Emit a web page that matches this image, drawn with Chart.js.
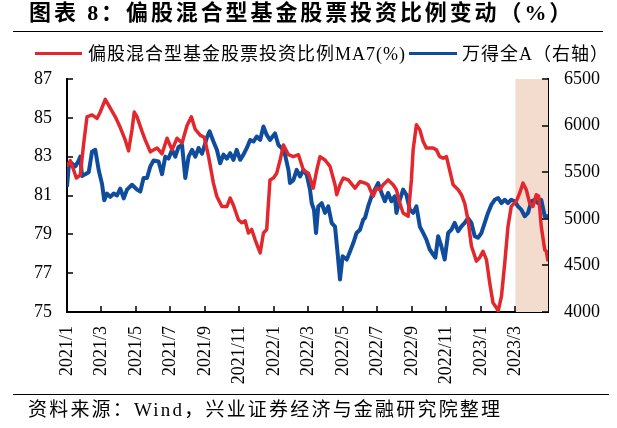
<!DOCTYPE html>
<html>
<head>
<meta charset="utf-8">
<script src="https://cdn.jsdelivr.net/npm/chart.js@4.4.1/dist/chart.umd.min.js"></script>
<style>
  body { margin: 0; background: #fff; }
  #wrap { position: relative; width: 617px; height: 428px; overflow: hidden;
          font-family: "Liberation Serif", "Noto Sans CJK SC", serif; color: #000; }
  #chart { position: absolute; left: 0; top: 0; }
  .title { position: absolute; left: 29px; top: 2px; font-size: 22px; line-height: 22px;
           font-weight: bold; letter-spacing: 2.9px; white-space: nowrap; }
  .rule { position: absolute; height: 0; border-top: 1.5px solid #000; }
  .legend { position: absolute; top: 45px; font-size: 18px; line-height: 18px;
            letter-spacing: 1px; white-space: nowrap; }
  .swatch { position: absolute; top: 52px; height: 3px; }
  .source { position: absolute; left: 28px; top: 400px; font-size: 19px; line-height: 19px;
            letter-spacing: 2.2px; white-space: nowrap; }
</style>
</head>
<body>
<div id="wrap">
  <canvas id="chart" width="617" height="428"></canvas>
  <div class="title">图表 8：偏股混合型基金股票投资比例变动（%）</div>
  <div class="rule" style="left:13px;top:31px;width:590px"></div>
  <div class="swatch" style="left:35px;width:47px;background:#E2282C"></div>
  <div class="legend" style="left:88px">偏股混合型基金股票投资比例MA7(%)</div>
  <div class="swatch" style="left:409px;width:48px;background:#0F4C9C"></div>
  <div class="legend" style="left:462px">万得全A（右轴）</div>
  <div class="rule" style="left:13px;top:394px;width:596px"></div>
  <div class="source">资料来源：Wind，兴业证券经济与金融研究院整理</div>
</div>
<script>
// x positions are months counted from 2021/1
const tickMonths = [0, 2, 4, 6, 8, 10, 12, 14, 16, 18, 20, 22, 24, 26];
const tickLabels = ["2021/1", "2021/3", "2021/5", "2021/7", "2021/9", "2021/11",
                    "2022/1", "2022/3", "2022/5", "2022/7", "2022/9", "2022/11",
                    "2023/1", "2023/3"];
const shadeFrom = 26; // 2023/3 onwards

const shareMonths = [0, 0.19, 0.39, 0.54, 0.77, 0.97, 1.16, 1.45, 1.74, 1.93, 2.22, 2.51, 2.8, 3.09,
  3.38, 3.57, 3.77, 3.9, 4.06, 4.35, 4.54, 4.83, 5.22, 5.51, 5.8, 6.09, 6.38, 6.67, 6.96, 7.21,
  7.44, 7.73, 7.96, 8.21, 8.49, 8.69, 8.98, 9.27, 9.46, 9.65, 9.94, 10.13, 10.33, 10.52, 10.71,
  10.91, 11.2, 11.39, 11.58, 11.77, 11.97, 12.16, 12.35, 12.55, 12.84, 13.13, 13.42, 13.71, 14,
  14.28, 14.48, 14.67, 14.96, 15.25, 15.54, 15.64, 15.83, 16.02, 16.31, 16.7, 16.99, 17.28, 17.46,
  17.75, 17.95, 18.14, 18.33, 18.62, 18.91, 19.1, 19.3, 19.49, 19.78, 19.97, 20.07, 20.26, 20.46,
  20.65, 20.84, 21.23, 21.42, 21.61, 21.81, 22, 22.19, 22.39, 22.68, 22.87, 23.06, 23.25, 23.45,
  23.74, 23.93, 24.12, 24.32, 24.51, 24.7, 24.9, 25, 25.19, 25.38, 25.57, 25.76, 26.05, 26.25,
  26.44, 26.63, 26.83, 27.02, 27.21, 27.35, 27.5, 27.7, 27.79, 27.89];
const shareValues = [82.5, 82.8, 82.3, 81.9, 82.05, 83.7, 85.05, 85.15, 84.97, 85.3, 85.95, 85.5,
  85.05, 84.5, 83.85, 83.3, 84.4, 85.3, 85.05, 84.3, 83.85, 83.25, 83.45, 83.15, 83.95, 83.35,
  83.95, 83.7, 84.6, 85.05, 84.4, 84.1, 84.0, 83.0, 81.64, 80.95, 80.43, 80.43, 80.87, 80.5,
  79.75, 79.6, 79.7, 79.07, 79.25, 78.72, 78.04, 79.07, 79.25, 81.8, 81.9, 82.15, 82.8, 83.6,
  83.1, 83.0, 83.1, 82.3, 82.15, 81.38, 82.3, 83.0, 82.83, 82.5, 81.55, 81.04, 81.55, 81.9, 81.8,
  81.38, 81.72, 81.64, 81.55, 80.96, 81.38, 81.3, 81.55, 81.8, 81.55, 81.3, 80.6, 80.1, 79.93,
  81.8, 83.35, 84.64, 84.38, 83.78, 83.44, 83.44, 83.35, 83.0, 82.92, 83.0, 82.3, 81.55, 81.3,
  81.04, 80.6, 79.76, 78.4, 77.62, 77.8, 78.13, 77.7, 76.5, 75.48, 75.22, 75.05, 75.8, 77.5,
  79.4, 80.44, 80.7, 81.13, 81.64, 81.3, 80.6, 80.44, 81.04, 80.96, 79.4, 78.2, 78.13, 77.62];

const indexMonths = [0, 0.1, 0.29, 0.48, 0.68, 0.77, 0.87, 1.06, 1.26, 1.45, 1.64, 1.84, 2.03, 2.16,
  2.32, 2.51, 2.71, 2.9, 3.09, 3.29, 3.48, 3.77, 4.06, 4.25, 4.44, 4.64, 4.83, 5.02, 5.31, 5.51,
  5.7, 5.89, 6.09, 6.28, 6.47, 6.67, 6.86, 7.05, 7.25, 7.44, 7.63, 7.83, 8.12, 8.27, 8.49, 8.69,
  8.88, 9.07, 9.27, 9.46, 9.65, 9.84, 10.04, 10.23, 10.42, 10.62, 10.81, 11, 11.2, 11.39, 11.58,
  11.77, 12.06, 12.26, 12.45, 12.64, 12.84, 12.93, 13.13, 13.32, 13.51, 13.71, 13.9, 14.09, 14.19,
  14.32, 14.44, 14.57, 14.77, 14.96, 15.15, 15.35, 15.54, 15.69, 15.83, 15.98, 16.22, 16.41, 16.6,
  16.79, 16.99, 17.18, 17.28, 17.46, 17.66, 17.85, 18.04, 18.24, 18.43, 18.62, 18.81, 19.01, 19.1,
  19.3, 19.49, 19.68, 19.88, 20.07, 20.26, 20.46, 20.65, 20.84, 21.03, 21.23, 21.36, 21.52, 21.71,
  21.9, 22.1, 22.29, 22.48, 22.68, 22.87, 23.06, 23.25, 23.45, 23.64, 23.83, 24.03, 24.22, 24.41,
  24.61, 24.8, 25, 25.19, 25.38, 25.57, 25.76, 25.96, 26.15, 26.34, 26.54, 26.73, 26.92, 27.12,
  27.31, 27.5, 27.7, 27.89];
const indexValues = [5344, 5562, 5594, 5562, 5625, 5667, 5458, 5479, 5500, 5719, 5740, 5521, 5375,
  5198, 5271, 5235, 5271, 5250, 5323, 5219, 5313, 5365, 5313, 5292, 5438, 5438, 5562, 5625, 5615,
  5479, 5667, 5646, 5740, 5667, 5771, 5792, 5438, 5667, 5740, 5667, 5760, 5698, 5875, 5938, 5829,
  5740, 5596, 5688, 5646, 5704, 5633, 5740, 5633, 5688, 5758, 5846, 5829, 5883, 5846, 5990, 5900,
  5846, 5917, 5792, 5758, 5688, 5525, 5383, 5417, 5525, 5454, 5525, 5471, 5313, 5167, 5098, 4848,
  5133, 5167, 5063, 5133, 4954, 4917, 4633, 4348, 4598, 4563, 4650, 4740, 4848, 4883, 4990, 5010,
  5133, 5242, 5313, 5383, 5277, 5188, 5277, 5188, 5242, 5063, 5204, 5313, 5258, 5098, 5063, 5133,
  4917, 4848, 4777, 4671, 4617, 4583, 4813, 4704, 4563, 4848, 4883, 4956, 4867, 4919, 4956, 5008,
  4956, 4813, 4796, 4848, 4956, 5063, 5152, 5204, 5223, 5169, 5204, 5169, 5204, 5188, 5133, 5098,
  5027, 5063, 5188, 5204, 5169, 5204, 5027, 5027];

const RED = "#E2282C";
const BLUE = "#0F4C9C";
const tickFont = { family: "'Liberation Serif', serif", size: 18 };

// shaded window behind the lines + short inward tick marks on every axis
const decorations = {
    id: "decorations",
    beforeDatasetsDraw(chart) {
        const { ctx, chartArea: a, scales: { x } } = chart;
        const x0 = x.getPixelForValue(shadeFrom);
        ctx.save();
        ctx.fillStyle = "#F3DCCD";
        ctx.fillRect(x0, a.top, a.right - x0, a.bottom - a.top);
        ctx.restore();
    },
    afterDraw(chart) {
        const { ctx, chartArea: a, scales: { x, y, y1 } } = chart;
        ctx.save();
        ctx.strokeStyle = "#000";
        ctx.lineWidth = 1.5;
        ctx.beginPath();
        y.ticks.forEach(t => {
            const py = Math.round(y.getPixelForValue(t.value));
            ctx.moveTo(a.left, py); ctx.lineTo(a.left + 6, py);
        });
        y1.ticks.forEach(t => {
            const py = Math.round(y1.getPixelForValue(t.value));
            ctx.moveTo(a.right, py); ctx.lineTo(a.right - 6, py);
        });
        x.ticks.forEach(t => {
            const px = Math.round(x.getPixelForValue(t.value));
            ctx.moveTo(px, a.bottom); ctx.lineTo(px, a.bottom - 6);
        });
        ctx.stroke();
        ctx.restore();
    }
};

new Chart(document.getElementById("chart"), {
    type: "line",
    data: {
        datasets: [
            {
                label: "偏股混合型基金股票投资比例MA7(%)",
                data: shareMonths.map((m, i) => ({ x: m, y: shareValues[i] })),
                borderColor: RED,
                borderWidth: 3.5,
                yAxisID: "y",
            },
            {
                label: "万得全A（右轴）",
                data: indexMonths.map((m, i) => ({ x: m, y: indexValues[i] })),
                borderColor: BLUE,
                borderWidth: 4,
                yAxisID: "y1",
            }
        ]
    },
    options: {
        responsive: false,
        animation: false,
        devicePixelRatio: 1,
        elements: { point: { radius: 0 }, line: { tension: 0, borderJoinStyle: "round" } },
        layout: { padding: { top: 79, left: 0, right: 0, bottom: 0 } },
        plugins: { legend: { display: false }, tooltip: { enabled: false } },
        scales: {
            x: {
                type: "linear",
                min: 0,
                max: 27.89,
                afterBuildTicks: axis => { axis.ticks = tickMonths.map(v => ({ value: v })); },
                afterFit: axis => { axis.height = 428 - 312; },
                grid: { display: false, drawTicks: false },
                border: { color: "#000", width: 2 },
                ticks: {
                    autoSkip: false,
                    minRotation: 90,
                    maxRotation: 90,
                    padding: 14,
                    color: "#000",
                    font: tickFont,
                    callback: v => tickLabels[tickMonths.indexOf(v)],
                }
            },
            y: {
                position: "left",
                min: 75,
                max: 87,
                afterFit: axis => { axis.width = 67; },
                grid: { display: false, drawTicks: false },
                border: { color: "#000", width: 2 },
                ticks: { stepSize: 2, padding: 15, color: "#000", font: tickFont,
                         callback: v => String(v) }
            },
            y1: {
                position: "right",
                min: 4000,
                max: 6500,
                afterFit: axis => { axis.width = 617 - 548; },
                grid: { display: false, drawTicks: false },
                border: { color: "#000", width: 2 },
                ticks: { stepSize: 500, padding: 16, color: "#000", font: tickFont,
                         callback: v => String(v) }
            }
        }
    },
    plugins: [decorations]
});
</script>
</body>
</html>
